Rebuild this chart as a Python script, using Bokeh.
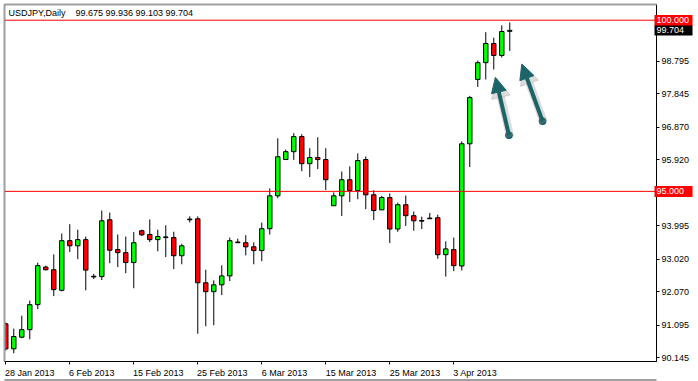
from bokeh.plotting import figure
from bokeh.models import (Range1d, FixedTicker, Span, Label, Arrow, NormalHead,
                          LinearAxis)
from bokeh.embed import file_html
from bokeh.resources import INLINE

# ---- data (USDJPY daily) ----
opens  = [91.13, 90.40, 90.74, 90.96, 91.69, 92.79, 92.71, 92.11, 93.56, 93.41,
          93.59, 92.52, 92.51, 94.17, 93.30, 93.21, 92.92, 93.85, 93.74, 93.59,
          93.67, 93.65, 93.12, 94.19, 94.20, 92.33, 92.07, 92.27, 92.53, 93.52,
          93.50, 93.38, 93.27, 93.91, 94.87, 95.93, 96.16, 96.60, 95.81, 95.99,
          95.93, 94.58, 94.87, 95.34, 95.02, 95.93, 94.90, 94.46, 94.82, 93.90,
          94.61, 94.29, 94.15, 94.22, 94.23, 93.15, 93.30, 92.82, 96.39, 98.27,
          98.76, 99.32, 98.97, 99.675]
highs  = [91.17, 90.99, 91.37, 91.81, 92.92, 92.83, 93.16, 93.77, 94.04, 93.88,
          93.68, 92.59, 94.44, 94.38, 93.74, 93.68, 93.81, 93.88, 94.18, 93.88,
          94.01, 93.82, 93.47, 94.27, 94.27, 92.71, 92.40, 92.84, 93.65, 93.62,
          93.72, 93.51, 94.09, 95.09, 96.55, 96.22, 96.70, 96.67, 96.26, 96.58,
          96.26, 94.97, 95.58, 95.73, 96.11, 96.02, 95.03, 94.87, 94.94, 94.67,
          94.88, 94.41, 94.26, 94.37, 94.32, 93.54, 93.65, 96.46, 97.79, 98.82,
          99.65, 99.49, 99.85, 99.936]
lows   = [90.35, 90.27, 90.71, 90.68, 91.56, 92.69, 91.94, 92.08, 93.23, 93.02,
          92.11, 92.44, 92.41, 92.90, 92.79, 92.61, 92.17, 93.70, 93.52, 93.25,
          93.08, 92.73, 92.87, 94.09, 90.84, 91.06, 91.09, 91.97, 92.38, 93.49,
          93.13, 92.87, 92.96, 93.74, 94.80, 95.93, 95.92, 95.59, 95.42, 95.65,
          95.04, 94.58, 94.28, 94.69, 94.77, 94.48, 94.16, 94.46, 93.49, 93.82,
          93.99, 93.85, 93.90, 94.21, 93.03, 92.51, 92.67, 92.69, 95.71, 98.05,
          98.27, 98.56, 98.91, 99.103]
closes = [90.40, 90.76, 90.96, 91.69, 92.83, 92.71, 92.13, 93.56, 93.41, 93.59,
          92.70, 92.50, 94.14, 93.28, 93.21, 92.92, 93.50, 93.73, 93.59, 93.68,
          93.65, 93.12, 93.41, 94.17, 92.33, 92.07, 92.27, 92.53, 93.56, 93.50,
          93.38, 93.27, 93.91, 94.87, 96.01, 96.16, 96.60, 95.81, 95.99, 95.93,
          95.34, 94.87, 95.34, 95.02, 95.90, 94.90, 94.44, 94.82, 93.90, 94.61,
          94.29, 94.14, 94.13, 94.20, 93.15, 93.32, 92.83, 96.39, 97.74, 98.76,
          99.32, 98.97, 99.67, 99.704]

date_tick_pos = [0, 8, 16, 24, 32, 40, 48, 56]
date_tick_labels = ["28 Jan 2013", "6 Feb 2013", "15 Feb 2013", "25 Feb 2013",
                    "6 Mar 2013", "15 Mar 2013", "25 Mar 2013", "3 Apr 2013"]
price_ticks = [98.795, 97.845, 96.870, 95.920, 93.995, 93.020, 92.070, 91.095, 90.145]
price_tick_labels = ["98.795", "97.845", "96.870", "95.920", "93.995",
                     "93.020", "92.070", "91.095", "90.145"]

level_lines = [100.0, 95.0]
level_labels = ["100.000", "95.000"]
last_price = 99.704
last_label = "99.704"
title_symbol = "USDJPY,Daily"
title_ohlc = "99.675 99.936 99.103 99.704"

# annotation arrows (index, price)
arrow_x0 = [62.9, 67.1]
arrow_y0 = [96.64, 97.05]
arrow_x1 = [61.2, 64.5]
arrow_y1 = [98.33, 98.72]

FONT = "Liberation Sans"
FS = "9px"
TEAL = "#1d6468"
EDGE = "#a0a0a0"
PX_PER_BAR = 8.0

idx = list(range(len(opens)))
tops = [max(o, c) for o, c in zip(opens, closes)]
bots = [min(o, c) for o, c in zip(opens, closes)]
cols = ["#00ff00" if c > o else "#ff0000" for o, c in zip(opens, closes)]

p = figure(width=698, height=381, output_backend="svg", toolbar_location=None,
           x_range=Range1d(-0.16, 81.34), y_range=Range1d(90.03, 100.459),
           y_axis_location=None, x_axis_location=None,
           min_border_left=4, min_border_top=4, min_border_right=42, min_border_bottom=20)
p.grid.visible = False
p.background_fill_color = "white"
p.border_fill_color = "white"
p.outline_line_color = "black"
p.outline_line_width = 1


def bare_axis(ticks):
    ax = LinearAxis(ticker=FixedTicker(ticks=ticks))
    ax.major_tick_in = 0
    ax.major_tick_out = 0
    ax.major_tick_line_color = None
    ax.minor_tick_line_color = None
    ax.axis_line_color = None
    ax.major_label_standoff = 0
    ax.major_label_text_font = FONT
    ax.major_label_text_font_size = FS
    ax.major_label_text_color = "black"
    return ax


def spacer_axis(gap):
    ax = bare_axis([])
    ax.major_label_text_font_size = "0px"
    ax.major_label_standoff = gap
    return ax


def edge_axis(width):
    ax = bare_axis([])
    ax.major_label_text_font_size = "0px"
    ax.axis_line_color = EDGE
    ax.axis_line_width = width
    return ax


# --- x axis: tick marks at the bar, label starting right of it (MT4 style)
xa_ticks = bare_axis(date_tick_pos)
xa_ticks.major_label_overrides = {t: "" for t in date_tick_pos}
xa_ticks.major_label_text_font_size = "0px"
xa_ticks.major_tick_out = 3
xa_ticks.major_tick_line_color = "black"
xa_ticks.axis_line_color = "black"
p.add_layout(xa_ticks, "below")


def text_w(s):
    w = 0.0
    for ch in s:
        if ch.isdigit():
            w += 5.0
        elif ch == " ":
            w += 2.5
        elif ch in "Mm":
            w += 7.5
        elif ch in "rJ":
            w += 4.0
        else:
            w += 5.0
    return w


label_pos = [t + (text_w(l) / 2 - 0.5) / PX_PER_BAR for t, l in zip(date_tick_pos, date_tick_labels)]
xa_lab = bare_axis(label_pos)
xa_lab.major_label_overrides = {t: l for t, l in zip(label_pos, date_tick_labels)}
xa_lab.major_label_standoff = 3
p.add_layout(xa_lab, "below")
p.add_layout(spacer_axis(1), "below")
p.add_layout(edge_axis(3), "below")

# window edges (left / top)
p.add_layout(spacer_axis(3), "left")
p.add_layout(edge_axis(2), "left")
p.add_layout(spacer_axis(3), "above")
p.add_layout(edge_axis(2), "above")

# --- y axis on the right: small gap, short dash, label
ya_gap = bare_axis(price_ticks)
ya_gap.major_label_overrides = {t: "" for t in price_ticks}
ya_gap.major_label_text_font_size = "0px"
ya_gap.major_label_standoff = 8
p.add_layout(ya_gap, "right")

ya = bare_axis(price_ticks)
ya.major_label_overrides = {t: l for t, l in zip(price_ticks, price_tick_labels)}
ya.major_tick_out = 3
ya.major_tick_line_color = "black"
ya.major_label_standoff = 2
p.add_layout(ya, "right")

# --- price boxes on the scale: thick tick marks drawn back over the scale
box_red = bare_axis(level_lines)
box_red.major_label_overrides = {t: "" for t in level_lines}
box_red.major_label_text_font_size = "0px"
box_red.major_tick_in = 38
box_red.major_tick_line_color = "#ff0000"
box_red.major_tick_line_width = 11
box_red.major_tick_line_cap = "butt"
p.add_layout(box_red, "right")

box_blk = bare_axis([last_price])
box_blk.major_label_overrides = {last_price: ""}
box_blk.major_label_text_font_size = "0px"
box_blk.major_tick_in = 38
box_blk.major_tick_line_color = "black"
box_blk.major_tick_line_width = 10
box_blk.major_tick_line_cap = "butt"
p.add_layout(box_blk, "right")

box_txt_ticks = level_lines + [last_price]
box_txt = bare_axis(box_txt_ticks)
box_txt.major_label_overrides = {t: l for t, l in zip(box_txt_ticks, level_labels + [last_label])}
box_txt.major_label_text_color = "white"
box_txt.major_label_standoff = -36
p.add_layout(box_txt, "right")

for lv in level_lines:
    p.add_layout(Span(location=lv, dimension="width", line_color="red", line_width=1))

p.segment(x0=idx, y0=lows, x1=idx, y1=highs, line_color="black", line_width=1)
p.vbar(x=idx, width=0.55, top=tops, bottom=bots, fill_color=cols,
       line_color="black", line_width=1)

# arrows with soft shadow
for x0, y0, x1, y1 in zip(arrow_x0, arrow_y0, arrow_x1, arrow_y1):
    p.add_layout(Arrow(x_start=x0 + 0.15, y_start=y0 - 0.04, x_end=x1 + 0.15, y_end=y1 - 0.04,
                       line_color="#8a8a8a", line_alpha=0.3, line_width=8,
                       end=NormalHead(size=19, fill_color="#8a8a8a", fill_alpha=0.3,
                                      line_color="#8a8a8a", line_alpha=0.3)))
    p.add_layout(Arrow(x_start=x0, y_start=y0, x_end=x1, y_end=y1,
                       line_color=TEAL, line_width=4,
                       end=NormalHead(size=15, fill_color=TEAL, line_color=TEAL, line_width=1)))
p.scatter(x=arrow_x0, y=arrow_y0, size=7, color=TEAL)

# title inside the chart
p.add_layout(Label(x=0.35, y=100.2, text=title_symbol, text_font=FONT, text_font_size=FS,
                   text_color="black", text_baseline="middle"))
p.add_layout(Label(x=8.7, y=100.2, text=title_ohlc, text_font=FONT, text_font_size=FS,
                   text_color="black", text_baseline="middle"))

open("out.html", "w").write(file_html(p, INLINE))
